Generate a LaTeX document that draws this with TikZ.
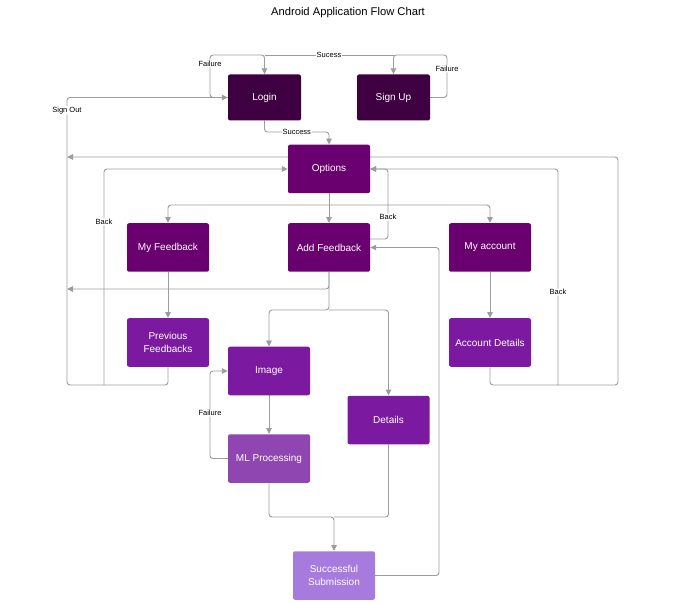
\documentclass[tikz,border=0pt]{standalone}
\usepackage{fontspec}
\setmainfont{Liberation Sans}
\usetikzlibrary{arrows.meta,backgrounds}

\definecolor{cLogin}{HTML}{3E0040}
\definecolor{cMain}{HTML}{6A0070}
\definecolor{cSub}{HTML}{7B1AA0}
\definecolor{cML}{HTML}{9046B0}
\definecolor{cDone}{HTML}{A77BDD}
\definecolor{linegray}{HTML}{9C9C9C}

\begin{document}
\begin{tikzpicture}[x=1pt,y=-1pt,
  box/.style={rounded corners=2pt, minimum width=82pt, minimum height=48.5pt,
    text=white, font=\fontsize{10}{13}\selectfont, align=center, inner sep=1pt},
  loginbox/.style={box, fill=cLogin, minimum width=73pt, minimum height=46pt},
  line/.style={draw=linegray, line width=0.9pt, rounded corners=3pt},
  flow/.style={line, -{Triangle[width=5.5pt,length=6pt]}},
  lbl/.style={fill=white, inner sep=0.8pt, font=\fontsize{7.5}{8}\selectfont, text=black}]

\useasboundingbox (0,0) rectangle (686,604);

\node[font=\fontsize{11.2}{13}\selectfont] (title) at (348,13) {Android Application Flow Chart};

% screens
\node[loginbox] (login)  at (264.5,97.5) {Login};
\node[loginbox] (signup) at (393.5,97.5) {Sign Up};
\node[box, fill=cMain] (options) at (329,169)   {Options};
\node[box, fill=cMain] (myfb)    at (168,247.5) {My Feedback};
\node[box, fill=cMain] (addfb)   at (329,247.5) {Add Feedback};
\node[box, fill=cMain] (myacc)   at (490,247.5) {My account};
\node[box, fill=cSub]  (prevfb)  at (168,342.5) {Previous\\Feedbacks};
\node[box, fill=cSub]  (accdet)  at (490,342.5) {Account Details};
\node[box, fill=cSub]  (image)   at (269,371)   {Image};
\node[box, fill=cSub]  (details) at (388.5,420) {Details};
\node[box, fill=cML]   (ml)      at (269,458.5) {ML Processing};
\node[box, fill=cDone] (done)    at (334,575.5) {Successful\\Submission};

\begin{pgfonlayer}{background}
  \fill[white] (0,0) rectangle (686,604);

  % login / sign up
  \draw[flow] (login.west) -- (210,97.5) -- node[lbl,pos=0.79]{Failure} (210,55)
              -- (login.north |- 0,55) -- (login.north);
  \draw[flow] (signup.east) -- (447,97.5) -- node[lbl,pos=0.67]{Failure} (447,55)
              -- (signup.north |- 0,55) -- (signup.north);
  \draw[line] (login.north |- 0,55) -- node[lbl]{Sucess} (signup.north |- 0,55);
  \draw[flow] (login.south) -- (264.5,132) -- node[lbl]{Success} (329,132) -- (options.north);

  % sign out
  \draw[flow] (prevfb.south) |- (67,385) -- node[lbl,pos=0.955]{Sign Out} (67,97.5) -- (login.west);
  \draw[flow] (accdet.south) |- (618,385) |- (67,157);
  \draw[flow] (addfb.south) |- (67,289);

  % options menu
  \draw[flow] (options.south) -- (addfb.north);
  \draw[flow] (options.south |- 0,205) -| (myfb.north);
  \draw[flow] (options.south |- 0,205) -| (myacc.north);
  \draw[flow] (myfb.south) -- (prevfb.north);
  \draw[flow] (myacc.south) -- (accdet.north);

  % back links
  \draw[flow] (104,385) -- node[lbl,pos=0.755]{Back} (104,169) -- (options.west);
  \draw[flow] (558,385) -- node[lbl,pos=0.43]{Back} (558,169) -- (options.east);
  \draw[flow] (addfb.east |- 0,239) -- (388,239) -- node[lbl,pos=0.31]{Back} (388,169) -- (options.east);

  % add feedback
  \draw[flow] (addfb.south) |- (329,310) -| (image.north);
  \draw[flow] (329,310) -| (details.north);
  \draw[flow] (image.south) -- (ml.north);
  \draw[flow] (ml.west) -- (210,458.5) -- node[lbl,pos=0.52]{Failure} (210,371) -- (image.west);
  \draw[flow] (ml.south) |- (334,517) -- (done.north);
  \draw[line] (details.south) |- (334,517);
  \draw[flow] (done.east) -| (439,247.5) -- (addfb.east);
\end{pgfonlayer}
\end{tikzpicture}
\end{document}
